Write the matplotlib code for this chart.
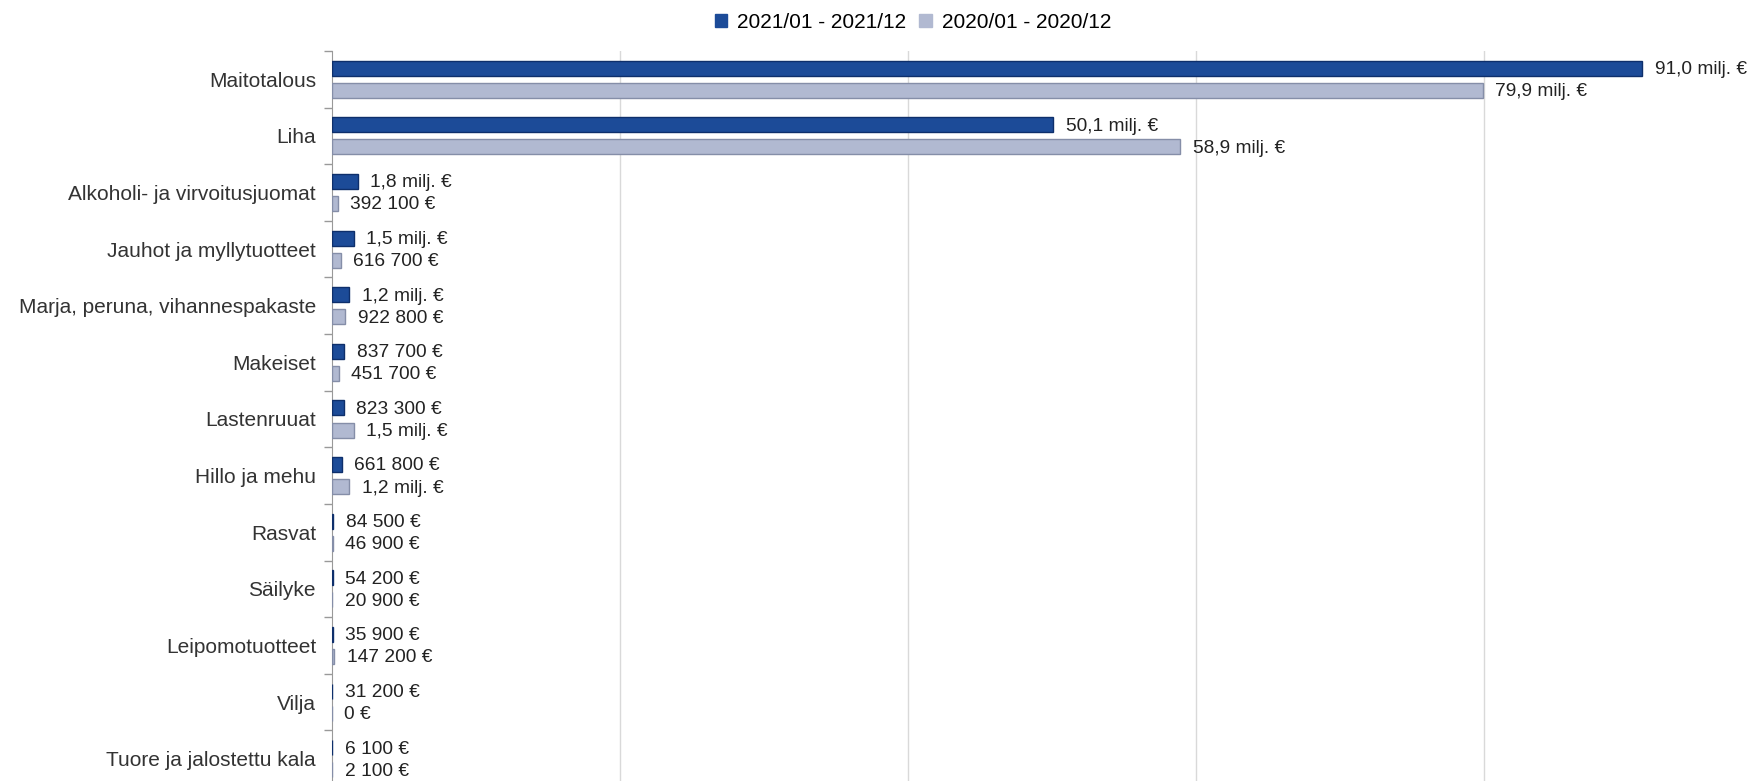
import numpy as np
import matplotlib
matplotlib.use('Agg')
import matplotlib.pyplot as plt
from matplotlib.ticker import FixedLocator

plt.rcParams['font.family'] = ['Liberation Sans', 'DejaVu Sans']

#categories and values (euros)
categories = ['Maitotalous', 'Liha', 'Alkoholi- ja virvoitusjuomat', 'Jauhot ja myllytuotteet',
              'Marja, peruna, vihannespakaste', 'Makeiset', 'Lastenruuat', 'Hillo ja mehu',
              'Rasvat', 'Säilyke', 'Leipomotuotteet', 'Vilja', 'Tuore ja jalostettu kala']
vals_2021 = [91.0e6, 50.1e6, 1.8e6, 1.5e6, 1.2e6, 837700, 823300, 661800,
             84500, 54200, 35900, 31200, 6100]
vals_2020 = [79.9e6, 58.9e6, 392100, 616700, 922800, 451700, 1.5e6, 1.2e6,
             46900, 20900, 147200, 0, 2100]
series_names = ['2021/01 - 2021/12', '2020/01 - 2020/12']


def fmt(v):
    if v >= 1e6:
        return ('%.1f' % (v / 1e6)).replace('.', ',') + ' milj. €'
    return '{:,.0f} €'.format(v).replace(',', ' ')


W, H = 1754, 781
fig = plt.figure(figsize=(W / 100, H / 100), dpi=100)
# axes runs a little past the bottom of the figure, like the reference
left, top, bottom = 332, 51, 787
ax = fig.add_axes([left / W, (H - bottom) / H, (W - left) / W, (bottom - top) / H])

n = len(categories)
y = np.arange(n)
bh = 0.265
off = 0.195
dark, dark_edge = '#1c4b98', '#0e2f6b'
light, light_edge = '#b1b9d1', '#858ea8'

m1 = np.array(vals_2021) / 1e6
m2 = np.array(vals_2020) / 1e6
ax.barh(y - off, m1, height=bh, color=dark, edgecolor=dark_edge, linewidth=1, zorder=3)
ax.barh(y + off, m2, height=bh, color=light, edgecolor=light_edge, linewidth=1, zorder=3)

for i in range(n):
    ax.annotate(fmt(vals_2021[i]), (m1[i], y[i] - off), xytext=(9, -1), textcoords='offset points',
                va='center', ha='left', fontsize=13.8, color='#222222')
    ax.annotate(fmt(vals_2020[i]), (m2[i], y[i] + off), xytext=(9, -1), textcoords='offset points',
                va='center', ha='left', fontsize=13.8, color='#222222')

ax.set_xlim(0, (W - left) / 14.4)
ax.set_ylim(n - 0.5, -0.5)
ax.set_xticks([20, 40, 60, 80])
ax.xaxis.grid(True, color='#d9d9d9', linewidth=1, zorder=0)
ax.tick_params(axis='x', length=0, labelbottom=False)

ax.set_yticks(y)
ax.set_yticklabels(categories, fontsize=15, color='#333333')
ax.yaxis.set_minor_locator(FixedLocator(np.arange(-0.5, n, 1)))
ax.tick_params(axis='y', which='major', length=0, pad=11.5)
ax.tick_params(axis='y', which='minor', length=5.5, color='#999999', width=1)

for s in ['top', 'right', 'bottom']:
    ax.spines[s].set_visible(False)
ax.spines['left'].set_color('#999999')

handles = [plt.Rectangle((0, 0), 1, 1, color=dark), plt.Rectangle((0, 0), 1, 1, color=light)]
fig.legend(handles, series_names, loc='center', bbox_to_anchor=(913 / W, 1 - 22 / H), ncol=2,
           frameon=False, fontsize=15, handlelength=0.6, handleheight=0.6, handletextpad=0.5,
           columnspacing=0.6)

fig.savefig('out.png', dpi=100)
